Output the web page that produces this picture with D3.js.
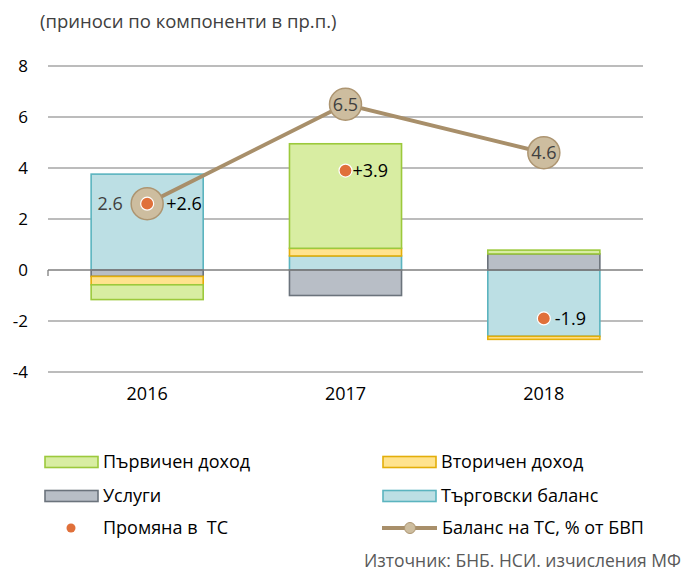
<!DOCTYPE html>
<html>
<head>
<meta charset="utf-8">
<script src="https://cdn.jsdelivr.net/npm/d3@7"></script>
<style>
  body { margin: 0; background: #fff; }
  svg text { font-family: "Open Sans", "DejaVu Sans", sans-serif; white-space: pre; }
</style>
</head>
<body>
<div id="chart"></div>
<script>
// data
var years = ["2016", "2017", "2018"];
var trade = [3.76, 0.55, -2.6];
var services = [-0.25, -1.0, 0.63];
var secondary = [-0.33, 0.3, -0.12];
var primary = [-0.58, 4.1, 0.15];
var changeCA = [2.6, 3.9, -1.9];
var changeLabels = ["+2.6", "+3.9", "-1.9"];
var balanceCA = [2.6, 6.5, 4.6];
var yTicks = [-4, -2, 0, 2, 4, 6, 8];

var svgWidth = 688;
var svgHeight = 571;
var margin = { top: 66, left: 48, right: 45, bottom: 199 };
var width = svgWidth - margin.left - margin.right;
var height = svgHeight - margin.top - margin.bottom;

var series = [
  { key: "trade", name: "Търговски баланс", values: trade, fill: "#bcdfe4", stroke: "#5bb4bf" },
  { key: "services", name: "Услуги", values: services, fill: "#b8bec6", stroke: "#6b737c" },
  { key: "secondary", name: "Вторичен доход", values: secondary, fill: "#ffe38e", stroke: "#e3ae0a" },
  { key: "primary", name: "Първичен доход", values: primary, fill: "#d8eda2", stroke: "#9cc93c" }
];

var svg = d3.select("#chart").append("svg")
  .attr("width", svgWidth)
  .attr("height", svgHeight);

var chartGroup = svg.append("g")
  .attr("transform", `translate(${margin.left}, ${margin.top})`);

var xScale = d3.scaleBand().domain(years).range([0, width]).paddingInner(0.435).paddingOuter(0.2175);
var yScale = d3.scaleLinear().domain([-4, 8]).range([height, 0]);

// title
svg.append("text")
  .attr("x", 40).attr("y", 28)
  .attr("font-size", "18.5px").attr("fill", "#404040")
  .text("(приноси по компоненти в пр.п.)");

// gridlines
chartGroup.selectAll(".grid")
  .data(yTicks.filter(d => d !== 0))
  .enter().append("line")
  .attr("x1", 0).attr("x2", width)
  .attr("y1", d => yScale(d)).attr("y2", d => yScale(d))
  .attr("stroke", "#a6a6a6").attr("stroke-width", 1.3);

// y tick labels
chartGroup.selectAll(".ytick")
  .data(yTicks)
  .enter().append("text")
  .attr("x", -20).attr("y", d => yScale(d))
  .attr("dy", "0.36em")
  .attr("text-anchor", "end")
  .attr("font-size", "17px").attr("fill", "#000")
  .text(d => d);

// stacked bars
var rows = years.map((y, i) => {
  var r = { year: y };
  series.forEach(s => { r[s.key] = s.values[i]; });
  return r;
});
var stack = d3.stack().keys(series.map(s => s.key)).offset(d3.stackOffsetDiverging);
var stacked = stack(rows);

stacked.forEach((layer, li) => {
  var s = series[li];
  chartGroup.selectAll(".bar-" + s.key)
    .data(layer)
    .enter().append("rect")
    .attr("x", d => xScale(d.data.year))
    .attr("width", xScale.bandwidth())
    .attr("y", d => yScale(Math.max(d[0], d[1])))
    .attr("height", d => Math.abs(yScale(d[0]) - yScale(d[1])))
    .attr("fill", s.fill)
    .attr("stroke", s.stroke)
    .attr("stroke-width", 1.6);
});

// x axis (zero line)
var xAxis = chartGroup.append("g")
  .attr("transform", `translate(0, ${yScale(0)})`);
xAxis.append("line")
  .attr("x1", 0).attr("x2", width)
  .attr("stroke", "#7f7f7f").attr("stroke-width", 1.3);
xAxis.append("line")
  .attr("x1", 0).attr("x2", 0).attr("y1", 0).attr("y2", 6)
  .attr("stroke", "#7f7f7f").attr("stroke-width", 1.3);

// category labels
chartGroup.selectAll(".xlabel")
  .data(years)
  .enter().append("text")
  .attr("x", d => xScale(d) + xScale.bandwidth() / 2)
  .attr("y", height + 28)
  .attr("text-anchor", "middle")
  .attr("font-size", "18px").attr("fill", "#000")
  .text(d => d);

// balance line
var cx = d => xScale(d) + xScale.bandwidth() / 2;
var line = d3.line()
  .x((d, i) => cx(years[i]))
  .y(d => yScale(d));
chartGroup.append("path")
  .datum(balanceCA)
  .attr("d", line)
  .attr("fill", "none")
  .attr("stroke", "#a88f6a")
  .attr("stroke-width", 4);

chartGroup.selectAll(".balanceDot")
  .data(balanceCA)
  .enter().append("circle")
  .attr("cx", (d, i) => cx(years[i]))
  .attr("cy", d => yScale(d))
  .attr("r", 16)
  .attr("fill", "#cdbd9f")
  .attr("stroke", "#ad9571")
  .attr("stroke-width", 1.5);

chartGroup.selectAll(".balanceLabel")
  .data(balanceCA)
  .enter().append("text")
  .attr("x", (d, i) => i === 0 ? cx(years[i]) - 37 : cx(years[i]))
  .attr("y", d => yScale(d))
  .attr("dy", "0.36em")
  .attr("text-anchor", "middle")
  .attr("font-size", "18px").attr("fill", "#404040")
  .text(d => d.toFixed(1));

// change in CA
chartGroup.selectAll(".changeDot")
  .data(changeCA)
  .enter().append("circle")
  .attr("cx", (d, i) => cx(years[i]))
  .attr("cy", d => yScale(d))
  .attr("r", 6.5)
  .attr("fill", "#e0703a")
  .attr("stroke", "#fff")
  .attr("stroke-width", 1.2);

// label offsets from the dot
var labelShift = [19, 7, 11];
chartGroup.selectAll(".changeLabel")
  .data(changeCA)
  .enter().append("text")
  .attr("x", (d, i) => cx(years[i]) + labelShift[i])
  .attr("y", d => yScale(d))
  .attr("dy", "0.36em")
  .attr("font-size", "18px").attr("fill", "#000")
  .text((d, i) => changeLabels[i]);

// legend
var legendItems = [
  { s: series[3], x: 45, y: 462 },
  { s: series[2], x: 383, y: 462 },
  { s: series[1], x: 45, y: 496 },
  { s: series[0], x: 383, y: 496 }
];
var legend = svg.append("g");
legendItems.forEach(it => {
  legend.append("rect")
    .attr("x", it.x).attr("y", it.y - 5.5)
    .attr("width", 53).attr("height", 11)
    .attr("fill", it.s.fill).attr("stroke", it.s.stroke).attr("stroke-width", 1.6);
  legend.append("text")
    .attr("x", it.x + 58).attr("y", it.y)
    .attr("dy", "0.36em")
    .attr("font-size", "18px").attr("fill", "#000")
    .text(it.s.name);
});
legend.append("circle")
  .attr("cx", 71).attr("cy", 528).attr("r", 4.5)
  .attr("fill", "#e0703a");
legend.append("text")
  .attr("x", 103).attr("y", 528).attr("dy", "0.36em")
  .attr("font-size", "18px").attr("fill", "#000")
  .text("Промяна в  ТС");
legend.append("line")
  .attr("x1", 382).attr("x2", 437).attr("y1", 528).attr("y2", 528)
  .attr("stroke", "#a88f6a").attr("stroke-width", 4);
legend.append("circle")
  .attr("cx", 410).attr("cy", 528).attr("r", 5.5)
  .attr("fill", "#cdbd9f").attr("stroke", "#ad9571").attr("stroke-width", 1);
legend.append("text")
  .attr("x", 442).attr("y", 528).attr("dy", "0.36em")
  .attr("font-size", "18px").attr("fill", "#000")
  .text("Баланс на ТС, % от БВП");

// source
svg.append("text")
  .attr("x", 681).attr("y", 567)
  .attr("text-anchor", "end")
  .attr("font-size", "17.5px").attr("fill", "#595959")
  .text("Източник: БНБ. НСИ. изчисления МФ");
</script>
</body>
</html>
